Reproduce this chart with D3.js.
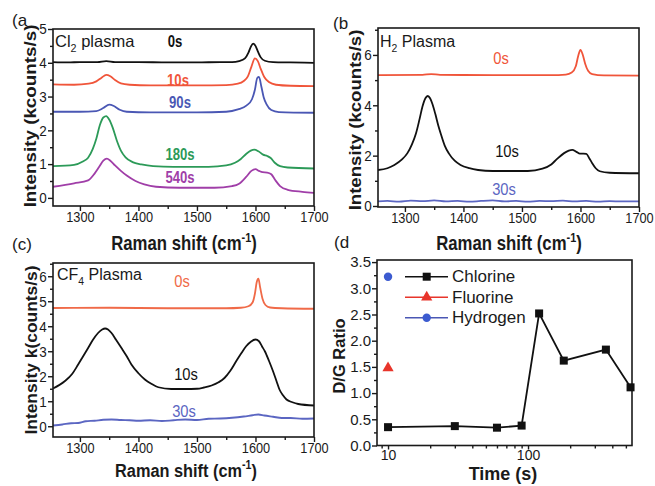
<!DOCTYPE html>
<html><head><meta charset="utf-8">
<script src="https://cdn.jsdelivr.net/npm/d3@7"></script>
<style>body{margin:0;background:#fff}svg{display:block}text{font-family:"Liberation Sans",Arial,sans-serif}</style>
</head><body><svg id="c" width="655" height="486"></svg>
<script>
// ---------- DATA ----------
const shiftTicks = [1300, 1400, 1500, 1600, 1700];
const shiftMinor = [1350, 1450, 1550, 1650];
// Panel a : Cl2 plasma  [Raman shift, intensity kcounts/s]
const cl_0s = [[1254,4.02],[1280,4.01],[1300,4.02],[1330,4.02],[1345,4.05],[1360,4.02],[1400,4.02],[1450,4.01],[1500,4.01],[1540,4.02],[1560,4.02],[1572,4.05],[1582,4.13],[1588,4.3],[1592,4.47],[1596,4.57],[1600,4.5],[1604,4.34],[1609,4.16],[1616,4.06],[1630,4.02],[1660,4.01],[1700,4.0]];
const cl_10s = [[1254,3.36],[1290,3.35],[1315,3.38],[1328,3.45],[1337,3.56],[1345,3.64],[1352,3.6],[1360,3.49],[1370,3.39],[1385,3.35],[1420,3.33],[1500,3.33],[1550,3.34],[1570,3.38],[1580,3.46],[1587,3.6],[1593,3.88],[1599,4.13],[1604,4.05],[1609,3.82],[1615,3.58],[1623,3.43],[1635,3.35],[1660,3.32],[1700,3.31]];
const cl_90s = [[1254,2.55],[1300,2.55],[1328,2.57],[1340,2.66],[1350,2.76],[1358,2.72],[1368,2.61],[1380,2.55],[1420,2.53],[1500,2.53],[1550,2.55],[1570,2.62],[1585,2.74],[1594,2.92],[1599,3.2],[1603,3.55],[1606,3.58],[1610,3.3],[1614,2.98],[1619,2.77],[1627,2.6],[1640,2.54],[1700,2.52]];
const cl_180s = [[1254,0.94],[1290,0.98],[1305,1.08],[1314,1.19],[1322,1.45],[1328,1.75],[1334,2.15],[1340,2.38],[1345,2.42],[1350,2.32],[1356,2.08],[1363,1.7],[1370,1.4],[1378,1.2],[1390,1.06],[1405,0.99],[1425,0.94],[1460,0.92],[1520,0.92],[1550,0.96],[1565,1.04],[1575,1.15],[1584,1.3],[1592,1.4],[1598,1.43],[1605,1.38],[1613,1.28],[1620,1.24],[1626,1.18],[1633,1.04],[1642,0.94],[1655,0.9],[1700,0.87]];
const cl_540s = [[1254,0.33],[1290,0.43],[1314,0.52],[1325,0.72],[1333,0.92],[1340,1.1],[1346,1.16],[1352,1.1],[1360,0.96],[1370,0.8],[1380,0.66],[1395,0.5],[1410,0.4],[1430,0.33],[1470,0.3],[1530,0.3],[1560,0.35],[1572,0.42],[1584,0.62],[1593,0.8],[1600,0.85],[1606,0.8],[1612,0.76],[1620,0.75],[1627,0.7],[1634,0.52],[1642,0.35],[1655,0.24],[1680,0.18],[1700,0.15]];
// Panel b : H2 plasma
const h_0s = [[1254,5.2],[1330,5.21],[1345,5.24],[1360,5.21],[1450,5.2],[1550,5.2],[1575,5.22],[1585,5.3],[1592,5.55],[1596,5.95],[1600,6.2],[1604,6.0],[1608,5.65],[1613,5.37],[1620,5.24],[1640,5.19],[1700,5.18]];
const h_10s = [[1254,1.43],[1270,1.5],[1282,1.63],[1295,1.85],[1304,2.09],[1312,2.45],[1319,2.89],[1325,3.45],[1330,3.95],[1335,4.28],[1339,4.37],[1343,4.28],[1347,4.05],[1352,3.65],[1357,3.2],[1361,2.89],[1368,2.4],[1375,2.09],[1385,1.8],[1395,1.63],[1410,1.5],[1425,1.43],[1450,1.39],[1510,1.39],[1535,1.48],[1550,1.65],[1560,1.87],[1572,2.1],[1580,2.2],[1586,2.23],[1593,2.15],[1599,2.08],[1605,2.08],[1610,2.07],[1615,1.9],[1620,1.7],[1626,1.5],[1633,1.38],[1650,1.32],[1700,1.3]];
const h_30s = [[1254,0.18],[1270,0.2],[1290,0.17],[1310,0.21],[1330,0.19],[1350,0.22],[1370,0.18],[1390,0.2],[1410,0.17],[1430,0.2],[1450,0.22],[1470,0.18],[1490,0.2],[1510,0.17],[1530,0.2],[1550,0.19],[1570,0.21],[1590,0.18],[1610,0.2],[1630,0.17],[1650,0.19],[1670,0.18],[1700,0.18]];
// Panel c : CF4 plasma
const cf_0s = [[1254,4.73],[1350,4.74],[1450,4.72],[1550,4.72],[1575,4.74],[1588,4.8],[1595,4.95],[1599,5.3],[1602,5.75],[1605,5.9],[1608,5.55],[1612,5.1],[1617,4.85],[1625,4.75],[1645,4.72],[1700,4.7]];
const cf_10s = [[1254,1.51],[1274,1.8],[1287,2.1],[1297,2.47],[1305,2.78],[1314,3.13],[1322,3.45],[1331,3.73],[1338,3.87],[1343,3.91],[1348,3.87],[1354,3.73],[1362,3.45],[1371,3.13],[1380,2.8],[1388,2.47],[1400,2.12],[1411,1.87],[1422,1.7],[1434,1.56],[1456,1.49],[1480,1.49],[1500,1.5],[1512,1.55],[1525,1.63],[1537,1.76],[1547,1.93],[1557,2.22],[1567,2.6],[1576,2.93],[1584,3.2],[1592,3.38],[1600,3.47],[1606,3.4],[1611,3.2],[1616,3.0],[1623,2.62],[1630,2.2],[1636,1.8],[1641,1.47],[1647,1.24],[1653,1.07],[1663,0.96],[1673,0.89],[1700,0.83]];
const cf_30s = [[1254,0.03],[1270,0.07],[1285,0.12],[1297,0.13],[1310,0.2],[1325,0.22],[1340,0.26],[1354,0.27],[1370,0.25],[1385,0.24],[1400,0.22],[1420,0.24],[1440,0.21],[1460,0.24],[1480,0.27],[1500,0.25],[1520,0.3],[1540,0.31],[1560,0.34],[1580,0.39],[1595,0.44],[1605,0.47],[1615,0.43],[1630,0.38],[1645,0.33],[1660,0.33],[1680,0.3],[1700,0.31]];
// Panel d : D/G ratio vs time
const timeCl = [10, 30, 60, 90, 120, 180, 360, 540];
const ratioCl = [0.35, 0.37, 0.34, 0.38, 2.52, 1.62, 1.83, 1.11];
const timeF = [10], ratioF = [1.48];
const timeH = [10], ratioH = [3.22];
const dgTicks = [0, 0.5, 1.0, 1.5, 2.0, 2.5, 3.0, 3.5];
const timeTicks = [10, 100];

// ---------- DRAW ----------
const svg = d3.select('#c');
const INK = '#1a1a1a';
const C = {black:'#111111', red:'#f0553a', blue:'#4a57b4', green:'#2c9a58', purple:'#a03ea8',
           redL:'#f06a48', blueL:'#5b66c2', tri:'#e8352b', dot:'#3c5bd0'};

function label(x, y, parts, o) {
  const tf = `translate(${x},${y}) scale(${o.sx || 1},1)` + (o.rot ? ' rotate(-90)' : '');
  const t = svg.append('text').attr('transform', tf)
    .attr('font-size', o.size).attr('font-weight', o.bold ? 'bold' : 'normal')
    .attr('fill', o.fill || INK).attr('text-anchor', o.anchor || 'start');
  let cur = 0;
  parts.forEach(p => {
    const [s, k] = typeof p === 'string' ? [p, ''] : p;
    const target = k === 'sub' ? Math.round(o.size * 0.3) : k === 'sup' ? -Math.round(o.size * 0.42) : 0;
    t.append('tspan').attr('dy', target - cur).attr('font-size', k ? o.size * 0.65 : o.size).text(s);
    cur = target;
  });
  return t;
}

function styleAxis(g, sx, size) {
  g.select('.domain').remove();
  g.selectAll('line').attr('stroke', INK).attr('stroke-width', 1.4);
  g.selectAll('text').attr('font-size', size).attr('fill', INK)
    .attr('font-family', '"Liberation Sans",Arial,sans-serif')
    .attr('transform', `scale(${sx},1)`);
}

function spectrum(cfg) {
  const x = d3.scaleLinear().domain([1254, 1700]).range([cfg.x0, cfg.x1]);
  const y = d3.scaleLinear().domain(cfg.yd).range([cfg.y1, cfg.y0]);
  const id = 'clip' + cfg.name;
  svg.append('clipPath').attr('id', id).append('rect')
    .attr('x', cfg.x0).attr('y', cfg.y0).attr('width', cfg.x1 - cfg.x0).attr('height', cfg.y1 - cfg.y0);
  const gx = svg.append('g').attr('transform', `translate(0,${cfg.y1})`)
    .call(d3.axisBottom(x).tickValues(shiftTicks).tickSize(5).tickSizeOuter(0).tickPadding(1).tickFormat(d3.format('d')));
  styleAxis(gx, 0.88, 14.5);
  const gxm = svg.append('g').attr('transform', `translate(0,${cfg.y1})`)
    .call(d3.axisBottom(x).tickValues(shiftMinor).tickSize(3).tickSizeOuter(0).tickFormat(''));
  styleAxis(gxm, 1, 10);
  const gy = svg.append('g').attr('transform', `translate(${cfg.x0},0)`)
    .call(d3.axisLeft(y).tickValues(cfg.yt).tickSize(5).tickSizeOuter(0).tickPadding(2).tickFormat(d3.format('d')));
  styleAxis(gy, 0.9, 15);
  const gym = svg.append('g').attr('transform', `translate(${cfg.x0},0)`)
    .call(d3.axisLeft(y).tickValues(cfg.ym).tickSize(3).tickSizeOuter(0).tickFormat(''));
  styleAxis(gym, 1, 10);
  const line = d3.line().x(d => x(d[0])).y(d => y(d[1])).curve(d3.curveMonotoneX);
  const lg = svg.append('g').attr('clip-path', `url(#${id})`);
  cfg.series.forEach(s => {
    lg.append('path').datum(s.data).attr('d', line).attr('fill', 'none')
      .attr('stroke', s.color).attr('stroke-width', 1.8).attr('stroke-linejoin', 'round');
  });
  svg.append('rect').attr('x', cfg.x0).attr('y', cfg.y0).attr('width', cfg.x1 - cfg.x0).attr('height', cfg.y1 - cfg.y0)
    .attr('fill', 'none').attr('stroke', INK).attr('stroke-width', 1.6);
}

// Panel a
spectrum({name:'a', x0:53, x1:314, y0:29, y1:206, yd:[-0.24, 5], yt:[0,1,2,3,4,5], ym:[0.5,1.5,2.5,3.5,4.5],
  series:[{data:cl_0s,color:C.black},{data:cl_10s,color:C.red},{data:cl_90s,color:C.blue},{data:cl_180s,color:C.green},{data:cl_540s,color:C.purple}]});
// Panel b
spectrum({name:'b', x0:378, x1:639, y0:28, y1:207, yd:[-0.04, 7.07], yt:[0,2,4,6], ym:[1,3,5,7],
  series:[{data:h_0s,color:C.red},{data:h_10s,color:C.black},{data:h_30s,color:C.blueL}]});
// Panel c
spectrum({name:'c', x0:53, x1:314, y0:263, y1:437, yd:[-0.43, 6.53], yt:[0,1,2,3,4,5,6], ym:[0.5,1.5,2.5,3.5,4.5,5.5,6.5],
  series:[{data:cf_0s,color:C.redL},{data:cf_10s,color:C.black},{data:cf_30s,color:C.blueL}]});

// Panel d
(function(){
  const x0 = 377, x1 = 632, y0 = 260, y1 = 445.5;
  const x = d3.scaleLog().domain([8.34, 553]).range([x0, x1]);
  const y = d3.scaleLinear().domain([0, 3.54]).range([y1, y0]);
  const gx = svg.append('g').attr('transform', `translate(0,${y1})`)
    .call(d3.axisBottom(x).tickValues(timeTicks).tickSize(4).tickSizeOuter(0).tickPadding(1).tickFormat(d3.format('d')));
  styleAxis(gx, 1, 14);
  const minorT = [9,20,30,40,50,60,70,80,90,200,300,400,500];
  const gxm = svg.append('g').attr('transform', `translate(0,${y1})`)
    .call(d3.axisBottom(x).tickValues(minorT).tickSize(3).tickSizeOuter(0).tickFormat(''));
  styleAxis(gxm, 1, 10);
  const gy = svg.append('g').attr('transform', `translate(${x0},0)`)
    .call(d3.axisLeft(y).tickValues(dgTicks).tickSize(5).tickSizeOuter(0).tickPadding(1).tickFormat(d3.format('.1f')));
  styleAxis(gy, 1, 15);
  const gym = svg.append('g').attr('transform', `translate(${x0},0)`)
    .call(d3.axisLeft(y).tickValues(d3.range(0.25, 3.5, 0.5)).tickSize(3).tickSizeOuter(0).tickFormat(''));
  styleAxis(gym, 1, 10);
  svg.append('rect').attr('x', x0).attr('y', y0).attr('width', x1 - x0).attr('height', y1 - y0)
    .attr('fill', 'none').attr('stroke', INK).attr('stroke-width', 1.6);

  const cl = timeCl.map((t, i) => [t, ratioCl[i]]);
  svg.append('path').datum(cl).attr('d', d3.line().x(d => x(d[0])).y(d => y(d[1])))
    .attr('fill', 'none').attr('stroke', C.black).attr('stroke-width', 1.8);
  const sq = 8;
  svg.selectAll('.sq').data(cl).enter().append('rect')
    .attr('x', d => x(d[0]) - sq/2).attr('y', d => y(d[1]) - sq/2).attr('width', sq).attr('height', sq).attr('fill', C.black);
  const tri = d3.symbol().type(d3.symbolTriangle).size(55);
  timeF.forEach((t, i) => svg.append('path').attr('d', tri).attr('fill', C.tri)
    .attr('transform', `translate(${x(t)},${y(ratioF[i])})`));
  timeH.forEach((t, i) => svg.append('circle').attr('cx', x(t)).attr('cy', y(ratioH[i])).attr('r', 4.2).attr('fill', C.dot));

  // legend
  const lx0 = 405, lx1 = 448, mx = 426.7;
  const rows = [{y:276.7, name:'Chlorine', m:'sq'},
                {y:297.3, name:'Fluorine', m:'tri'},
                {y:317.7, name:'Hydrogen', m:'dot'}];
  rows.forEach(r => {
    svg.append('line').attr('x1', lx0).attr('x2', lx1).attr('y1', r.y).attr('y2', r.y)
      .attr('stroke', r.m === 'sq' ? C.black : (r.m === 'tri' ? C.tri : C.blue)).attr('stroke-width', 1.6);
    if (r.m === 'sq') svg.append('rect').attr('x', mx - sq/2).attr('y', r.y - sq/2).attr('width', sq).attr('height', sq).attr('fill', C.black);
    if (r.m === 'tri') svg.append('path').attr('d', tri).attr('fill', C.tri).attr('transform', `translate(${mx},${r.y})`);
    if (r.m === 'dot') svg.append('circle').attr('cx', mx).attr('cy', r.y).attr('r', 4.2).attr('fill', C.dot);
    label(452, r.y + 5.5, [r.name], {size:17});
  });
  label(503, 480, ['Time (s)'], {size:18, bold:true, anchor:'middle'});
  label(345, 356, ['D/G Ratio'], {size:16.5, bold:true, anchor:'middle', rot:true});
})();

// ---------- TEXT LABELS ----------
// panel letters
label(12, 26, ['(a'], {size:17});
label(333, 29, ['(b'], {size:17});
label(12, 250, ['(c)'], {size:17});
label(334, 248, ['(d'], {size:17});

// axis titles
const raman = ['Raman shift (cm', ['-1','sup'], ')'];
label(184, 250, raman, {size:19.5, bold:true, anchor:'middle', sx:0.86});
label(509, 250, raman, {size:19.5, bold:true, anchor:'middle', sx:0.86});
label(186, 477, raman, {size:19, bold:true, anchor:'middle', sx:0.86});
label(36, 116, ['Intensity (kcounts/s)'], {size:18.8, bold:true, anchor:'middle', rot:true, sx:0.88});
label(361, 120, ['Intensity (kcounts/s)'], {size:18.6, bold:true, anchor:'middle', rot:true, sx:0.88});
label(37, 350, ['Intensity k(counts/s)'], {size:17.4, bold:true, anchor:'middle', rot:true, sx:0.9});

// panel a annotations
label(55, 47, ['Cl', ['2','sub'], ' plasma'], {size:16.5});
label(175, 47, ['0s'], {size:16, bold:true, anchor:'middle', sx:0.82, fill:C.black});
label(178, 86, ['10s'], {size:16, bold:true, anchor:'middle', sx:0.82, fill:C.red});
label(180, 108, ['90s'], {size:16, bold:true, anchor:'middle', sx:0.82, fill:C.blue});
label(180, 160, ['180s'], {size:16, bold:true, anchor:'middle', sx:0.82, fill:C.green});
label(180, 183, ['540s'], {size:16, bold:true, anchor:'middle', sx:0.82, fill:C.purple});
// panel b annotations
label(380, 47, ['H', ['2','sub'], ' Plasma'], {size:16});
label(501, 64, ['0s'], {size:16, anchor:'middle', sx:0.92, fill:C.red});
label(507, 157, ['10s'], {size:16, anchor:'middle', sx:0.92, fill:C.black});
label(504, 195, ['30s'], {size:16, anchor:'middle', sx:0.92, fill:C.blueL});
// panel c annotations
label(57, 280, ['CF', ['4','sub'], ' Plasma'], {size:16});
label(182, 287, ['0s'], {size:16, anchor:'middle', sx:0.92, fill:C.redL});
label(186, 380, ['10s'], {size:16, anchor:'middle', sx:0.92, fill:C.black});
label(184, 417, ['30s'], {size:16, anchor:'middle', sx:0.92, fill:C.blueL});
</script></body></html>
